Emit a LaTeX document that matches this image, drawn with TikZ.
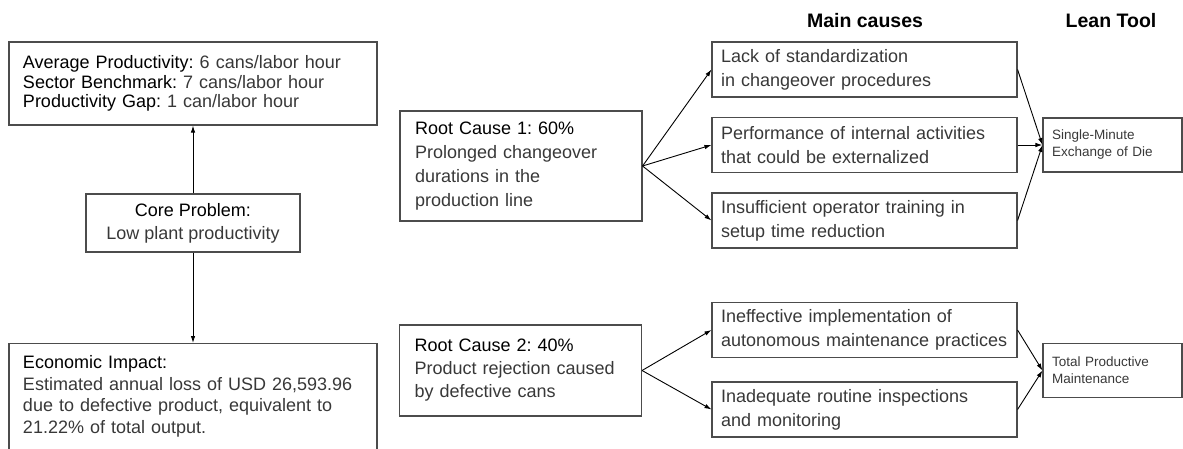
\documentclass[tikz,border=0pt]{standalone}
\usepackage{fontspec}
\setmainfont{Liberation Sans}
\usetikzlibrary{arrows.meta}
\definecolor{boxline}{gray}{0.3}
\definecolor{bodytext}{gray}{0.22}
\frenchspacing

\begin{document}
\begin{tikzpicture}[x=1pt,y=-1pt,
    >={Latex[length=7pt,width=4.5pt]},
    box/.style={draw=boxline,line width=1.1pt,text=bodytext,align=left,inner ysep=0pt},
    causebox/.style={box,text width=287,inner xsep=9,minimum height=55,font=\fontsize{18}{24}\selectfont},
    toolbox/.style={box,text width=121,inner xsep=9,minimum height=54,font=\fontsize{13.5}{17}\selectfont},
    rootbox/.style={box,text width=212,inner xsep=15,font=\fontsize{18}{24}\selectfont},
    head/.style={font=\fontsize{19.5}{22}\selectfont\bfseries},
    link/.style={->,line width=0.9pt}]
        \useasboundingbox (0,0) rectangle (1183,449);
        \clip (0,0) rectangle (1183,449);

        \draw (865,21) node[head](hcause) {Main causes};
        \draw (1111,21) node[head](htool) {Lean Tool};

        % problem side
        \draw (193,83.5) node[box,text width=340,inner xsep=14,minimum height=83,font=\fontsize{18}{19.5}\selectfont](prod)
            {\textcolor{black}{Average Productivity:} 6 cans/labor hour\\
             \textcolor{black}{Sector Benchmark:} 7 cans/labor hour\\
             \textcolor{black}{Productivity Gap:} 1 can/labor hour};
        \draw (193,223) node[box,align=center,minimum width=214,minimum height=58,font=\fontsize{18}{23}\selectfont](core)
            {\textcolor{black}{Core Problem:}\\Low plant productivity};
        \draw (193,343) node[box,anchor=north,text width=340,inner xsep=14,inner ysep=12,text depth=120pt,font=\fontsize{18}{21.5}\selectfont](econ)
            {\textcolor{black}{Economic Impact:}\\
             Estimated annual loss of USD 26,593.96\\
             due to defective product, equivalent to\\
             21.22\% of total output.};

        \draw[link] (core.north) -- (prod.south);
        \draw[link] (core.south) -- (econ.north);

        % root causes
        \draw (521,166) node[rootbox,minimum height=110](root1)
            {\textcolor{black}{Root Cause 1: 60\%}\\Prolonged changeover\\durations in the\\production line};
        \draw (520.5,370.5) node[rootbox,minimum height=91,font=\fontsize{18}{23}\selectfont](root2)
            {\textcolor{black}{Root Cause 2: 40\%}\\Product rejection caused\\by defective cans};

        \draw (864.5,69.5) node[causebox](lack) {Lack of standardization\\in changeover procedures};
        \draw (864.5,145) node[causebox](perf) {Performance of internal activities\\that could be externalized};
        \draw (864.5,220.5) node[causebox](train) {Insufficient operator training in\\setup time reduction};
        \draw (864.5,330) node[causebox](auto) {Ineffective implementation of\\autonomous maintenance practices};
        \draw (864.5,409.5) node[causebox](insp) {Inadequate routine inspections\\and monitoring};

        \draw (1112.5,145) node[toolbox](smed) {Single-Minute\\Exchange of Die};
        \draw (1112.5,370.5) node[toolbox](tpm) {Total Productive\\Maintenance};

        \foreach \c in {lack,perf,train} {
            \draw[link] (root1.east) -- (\c.west);
            \draw[link] (\c.east) -- (smed.west);
        }
        \foreach \c in {auto,insp} {
            \draw[link] (root2.east) -- (\c.west);
            \draw[link] (\c.east) -- (tpm.west);
        }
    \end{tikzpicture}
\end{document}
